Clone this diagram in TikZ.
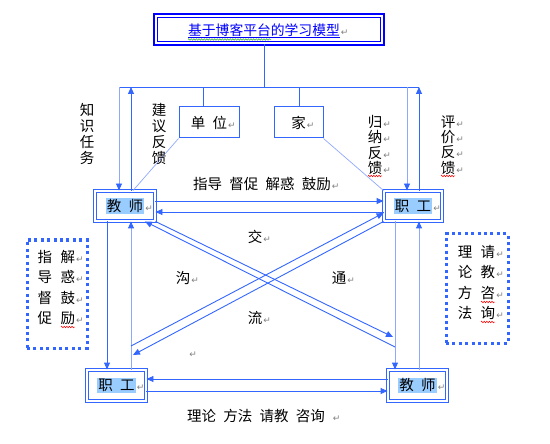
\documentclass[tikz,border=0pt]{standalone}
\usepackage{fontspec}
\setmainfont{Noto Sans CJK SC}
\newfontfamily\retfont{DejaVu Sans}
\usetikzlibrary{arrows.meta,decorations.pathmorphing}
\definecolor{lnblue}{HTML}{3366FF}
\definecolor{ltblue}{HTML}{8FA8FF}
\definecolor{ttblue}{HTML}{0000FF}
\definecolor{hlblue}{HTML}{99CCFF}
\definecolor{retgray}{HTML}{808080}
\definecolor{wavegreen}{HTML}{33AA33}
\newcommand{\ret}[1][1pt]{\rlap{\hspace{#1}{\retfont\fontsize{9}{9}\selectfont\color{retgray}↵}}}
\newcommand{\hlt}[1]{{\setlength{\fboxsep}{1.2pt}\colorbox{hlblue}{#1}}}
\tikzset{
  conn/.style={draw=lnblue, line width=0.9pt},
  lconn/.style={draw=ltblue, line width=0.9pt},
  arr/.style={conn, -{Triangle[length=7pt,width=6pt]}},
  larr/.style={lconn, -{Triangle[length=7pt,width=6pt,color=lnblue]}},
  thin conn/.style={draw=ltblue, line width=0.7pt},
  dbox/.style={draw=lnblue, double, double distance=1.8pt, line width=1.3pt, inner sep=0pt},
  titlebox/.style={draw=ttblue, double, double distance=1.8pt, line width=1.8pt, inner sep=0pt, minimum width=226.6, minimum height=27.6},
  sbox/.style={draw=lnblue, line width=1pt, inner sep=0pt, minimum height=31},
  dotbox/.style={draw=lnblue, line width=3pt, dash pattern=on 3pt off 3.4pt, inner sep=0pt},
  lbl/.style={inner sep=0pt, text=black},
  vlbl/.style={inner sep=0pt, align=center},
  wavy/.style={decorate, decoration={zigzag, amplitude=0.8pt, segment length=2.6pt}, line width=0.5pt},
}
\begin{document}
\begin{tikzpicture}[x=1pt, y=-1pt, font=\fontsize{14.5}{16}\selectfont]
\useasboundingbox (0,0) rectangle (550,444);

% helper coordinates
\coordinate (c107) at (107,0);
\coordinate (c131) at (131,0);
\coordinate (c133) at (133,0);
\coordinate (c145) at (145,0);
\coordinate (c203) at (203,0);
\coordinate (c264) at (264,0);
\coordinate (c299) at (299,0);
\coordinate (c395) at (395,0);
\coordinate (c407) at (407,0);
\coordinate (c419) at (419,0);
\coordinate (h201) at (0,201);
\coordinate (h212) at (0,212);
\coordinate (h213) at (0,213);
\coordinate (h379) at (0,379);
\coordinate (h391) at (0,391);
\coordinate (topL) at (119,87);
\coordinate (topR) at (419,87);
\coordinate (topM) at (264,87);
\coordinate (dA) at (393,337);
\coordinate (dB) at (395,347);
\coordinate (dC) at (133,355);
\coordinate (dD) at (131,346);

% title
\node[titlebox] (title) at (269,29.5) {};
\node[lbl, text=ttblue, font=\fontsize{13.8}{16}\selectfont] (ttext) at (264,30) {基于博客平台的学习模型\ret};
\draw[ttblue, line width=0.6pt] (188,37.5) -- (340,37.5);
\draw[wavegreen, wavy] (188,39.5) -- (271,39.5);

% boxes
\node[dbox, minimum width=59.6, minimum height=29.6] (tl) at (125,206) {\hlt{教\hspace{0.5em}师}\ret};
\node[dbox, minimum width=57.6, minimum height=29.6] (tr) at (413,206) {\hlt{职\hspace{0.5em}工}\ret};
\node[dbox, minimum width=58.6, minimum height=30.6] (bl) at (116.5,385.5) {\hlt{职\hspace{0.5em}工}\ret};
\node[dbox, minimum width=58.6, minimum height=30.6] (br) at (417.5,385.5) {\hlt{教\hspace{0.5em}师}\ret};
\node[sbox, minimum width=60] (unit) at (209,122.5) {单\hspace{0.5em}位\ret};
\node[sbox, minimum width=49] (home) at (298.5,122.5) {家\ret};

% top connectors
\draw[conn] (title.south -| c264) -- (topM);
\draw[conn] (topL) -- (topR);
\draw[conn] (unit.north -| c203) -- (c203 |- topL);
\draw[conn] (home.north -| c299) -- (c299 |- topL);
\draw[larr] (topL) -- (tl.north -| topL);
\draw[arr] (tl.north -| c131) -- (c131 |- topL);
\draw[larr] (c407 |- topL) -- (tr.north -| c407);
\draw[arr] (tr.north -| c419) -- (topR);
\draw[thin conn] (unit.south west) -- (tl.north -| c133);
\draw[thin conn] (home.south east) -- (tr.north west);

% horizontal arrows
\draw[arr] (tl.east |- h201) -- (tr.west |- h201);
\draw[arr] (tr.west |- h212) -- (tl.east |- h212);
\draw[arr] (br.west |- h379) -- (bl.east |- h379);
\draw[arr] (bl.east |- h391) -- (br.west |- h391);

% vertical arrows
\draw[arr] (tl.south -| c107) -- (bl.north -| c107);
\draw[larr] (bl.north -| c131) -- (tl.south -| c131);
\draw[larr] (tr.south -| c395) -- (br.north -| c395);
\draw[larr] (br.north -| c419) -- (tr.south -| c419);

% diagonals
\draw[arr] (tl.south east) -- (dA);
\draw[arr] (dB) -- (tl.south -| c145);
\draw[arr] (tr.south west) -- (dC);
\draw[arr] (dD) -- (tr.west |- h213);

% labels
\node[lbl] (lab1) at (262,184) {指导\hspace{0.5em}督促\hspace{0.5em}解惑\hspace{0.5em}鼓励\ret};
\node[lbl] (lab2) at (256,416) {理论\hspace{0.5em}方法\hspace{0.5em}请教\hspace{0.5em}咨询\ret[8pt]};
\node[lbl] (jiao) at (255,237) {交\ret};
\node[lbl] (gou) at (183,278) {沟\ret};
\node[lbl] (tong) at (339,278) {通\ret};
\node[lbl] (liu) at (255,318) {流\ret};
\node[lbl] (stray) at (197,354) {\ret[-4pt]\phantom{x}};

% vertical labels
\node[vlbl] (v1) at (87,134) {知\\识\\任\\务};
\node[vlbl] (v2) at (159,134) {建\\议\\反\\馈};
\node[vlbl, font=\fontsize{14.5}{15.3}\selectfont] (v3) at (375,145) {归\ret\\纳\ret\\反\ret\\馈\ret};
\node[vlbl, font=\fontsize{14.5}{15.3}\selectfont] (v4) at (448,145) {评\ret\\价\ret\\反\ret\\馈\ret};
\draw[red, wavy] (368,176) -- (382,176);
\draw[red, wavy] (441,176) -- (455,176);

% dotted boxes
\node[dotbox, minimum width=60, minimum height=108] (lbox) at (57,294) {};
\node[vlbl, align=left, font=\fontsize{14.5}{20.3}\selectfont] (lboxt) at (56.5,287.5)
  {指\hspace{8.5pt}解\ret\\导\hspace{8.5pt}惑\ret\\督\hspace{8.5pt}鼓\ret\\促\hspace{8.5pt}励\ret};
\draw[red, wavy] (61,327) -- (75,327);
\node[dotbox, minimum width=62, minimum height=109] (rbox) at (477,288.5) {};
\node[vlbl, align=left, font=\fontsize{14.5}{20.3}\selectfont] (rboxt) at (476.5,282.5)
  {理\hspace{8.5pt}请\ret\\论\hspace{8.5pt}教\ret\\方\hspace{8.5pt}咨\ret\\法\hspace{8.5pt}询\ret};
\draw[red, wavy] (481,302) -- (495,302);
\draw[red, wavy] (481,322) -- (495,322);
\end{tikzpicture}
\end{document}
